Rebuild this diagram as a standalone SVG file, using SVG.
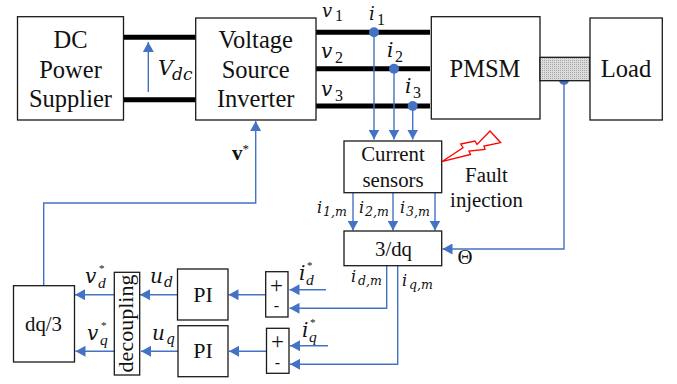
<svg xmlns="http://www.w3.org/2000/svg" width="677" height="384" viewBox="0 0 677 384">
<style>
.b{fill:#fff;stroke:#1a1a1a;stroke-width:1.3}
.t{font-family:"Liberation Serif",serif;font-size:24.500px;fill:#111;text-anchor:middle}
.s{font-size:20.800px}
.m{font-family:"DejaVu Serif","Liberation Serif",serif;font-style:italic;font-size:20px;fill:#111}
.n{font-size:16px}
.u{font-size:14px}
.l{font-family:"Liberation Serif",serif;font-style:italic;font-size:15.500px}
.x{font-family:"Liberation Serif",serif;font-style:normal;font-size:11px}
.d{font-family:"Liberation Serif",serif;font-style:normal;font-size:16px}
.w{stroke:#000;fill:none;stroke-width:5}
.c{stroke:#4472c4;stroke-width:1.4;fill:none}
.a{fill:#4472c4}
</style>
<defs>
<pattern id="h" width="2" height="2" patternUnits="userSpaceOnUse"><rect width="2" height="2" fill="#dcdcdc"/><rect width="1" height="1" fill="#a8a8a8"/></pattern>
<marker id="ah" markerUnits="userSpaceOnUse" markerWidth="11" markerHeight="11" refX="10" refY="5.500" orient="auto"><path d="M0 0L10 5.500L0 11Z" class="a"/></marker>
</defs>
<g id="connectors">
<path class="w" d="M123 37.300H196M123 99.700H196"/>
<path class="w" d="M316 32.300H430M316 68.700H430M316 106H430"/>
<path class="c" marker-end="url(#ah)" d="M148.300 92V42"/>
<path class="c" marker-end="url(#ah)" d="M374 32V139.500"/>
<path class="c" marker-end="url(#ah)" d="M394 68.500V139.500"/>
<path class="c" marker-end="url(#ah)" d="M412.700 106V139.500"/>
<circle class="a" cx="374" cy="32.300" r="5"/><circle class="a" cx="394" cy="68.700" r="5"/><circle class="a" cx="412.700" cy="106" r="5"/>
<path class="c" marker-end="url(#ah)" d="M564 81V249H442.500"/>
<circle class="a" cx="564" cy="80" r="5"/>
<path class="c" marker-end="url(#ah)" d="M353 193V230.500"/>
<path class="c" marker-end="url(#ah)" d="M393 193V230.500"/>
<path class="c" marker-end="url(#ah)" d="M435 193V230.500"/>
<path class="c" marker-end="url(#ah)" d="M43.700 285V203H255.700V121"/>
<path class="c" marker-end="url(#ah)" d="M386.700 265V308.300H289.500"/>
<path class="c" marker-end="url(#ah)" d="M397.700 265V364.300H290"/>
<path class="c" marker-end="url(#ah)" d="M326 289.700H289.500"/>
<path class="c" marker-end="url(#ah)" d="M328 345.700H290"/>
<path class="c" marker-end="url(#ah)" d="M266 294.700H228.500"/>
<path class="c" marker-end="url(#ah)" d="M267 351.300H229"/>
<path class="c" marker-end="url(#ah)" d="M178 294.700H140"/>
<path class="c" marker-end="url(#ah)" d="M178 351.300H141"/>
<path class="c" marker-end="url(#ah)" d="M114 294.700H75"/>
<path class="c" marker-end="url(#ah)" d="M114 351.300H75.500"/>
</g>
<g id="dc"><rect class="b" x="17.500" y="16.700" width="106" height="103.300"/><text class="t" x="70.500" y="47.700">DC</text><text class="t" x="70.500" y="77.700">Power</text><text class="t" x="70.500" y="106.700">Supplier</text></g>
<g id="vsi"><rect class="b" x="195.700" y="18" width="120.300" height="102"/><text class="t" x="255.700" y="47.700">Voltage</text><text class="t" x="255.700" y="77.700">Source</text><text class="t" x="255.700" y="106.700">Inverter</text></g>
<g id="pmsm"><rect class="b" x="431.300" y="16.700" width="108.700" height="102.300"/><text class="t" x="485" y="77">PMSM</text></g>
<g id="shaft"><rect x="540" y="57.300" width="50" height="23.400" fill="url(#h)" stroke="#1a1a1a" stroke-width="1.300"/></g>
<g id="load"><rect class="b" x="590" y="18" width="72.300" height="102"/><text class="t" x="626" y="77">Load</text></g>
<g id="sensors"><rect class="b" x="344" y="141" width="97.700" height="51.700"/><text class="t s" x="393" y="161">Current</text><text class="t s" x="393" y="187">sensors</text></g>
<g id="fault"><path d="M441.700 161.700L463 147.700L460.700 144L475 141L477 144.500L490 131L500.700 142.700L484 146L485 149.500L469 151L470.500 154.500Z" fill="#fff" stroke="#f00" stroke-width="1.300"/><text class="t s" x="486.500" y="182">Fault</text><text class="t s" x="486.500" y="207">injection</text></g>
<g id="abc"><rect class="b" x="344" y="231" width="97.700" height="34.700"/><text class="t s" x="393.500" y="256">3/dq</text></g>
<g id="dq3"><rect class="b" x="13.500" y="285.700" width="61" height="76.300"/><text class="t s" x="43.500" y="331">dq/3</text></g>
<g id="dec"><rect class="b" x="114.300" y="272.300" width="25.400" height="102.700"/><text class="t" style="font-size:22px" transform="translate(133 323.500) rotate(-90)">decoupling</text></g>
<g id="pi1"><rect class="b" x="177.500" y="269" width="50.500" height="51"/><text class="t" style="font-size:22px" x="203" y="302">PI</text></g>
<g id="pi2"><rect class="b" x="178" y="325.700" width="50" height="51"/><text class="t" style="font-size:22px" x="203" y="358">PI</text></g>
<g id="sum1"><rect class="b" x="265.700" y="271.700" width="22.300" height="45.300"/><text class="t" style="font-size:23px" x="276.500" y="293">+</text><text class="t" style="font-size:16px" x="276.500" y="311">-</text></g>
<g id="sum2"><rect class="b" x="266.500" y="328.300" width="22.500" height="45"/><text class="t" style="font-size:23px" x="277.500" y="349">+</text><text class="t" style="font-size:16px" x="277.500" y="367.500">-</text></g>
<g id="labels">
<text class="m" style="font-size:18px" x="322" y="17">v<tspan class="d" x="335" dy="4">1</tspan></text>
<text class="m" x="321" y="58">v<tspan class="d" x="335" dy="5">2</tspan></text>
<text class="m" x="321" y="96">v<tspan class="d" x="335" dy="5">3</tspan></text>
<text class="m" style="font-size:18px" x="369" y="20">i<tspan class="d" x="377" dy="5">1</tspan></text>
<text class="m" x="387" y="56.500">i<tspan class="d" x="395" dy="5">2</tspan></text>
<text class="m" x="405" y="93">i<tspan class="d" x="413" dy="5">3</tspan></text>
<text class="m" x="158" y="75" style="font-size:21px">V<tspan class="u" style="font-size:17px" x="172" dy="5">dc</tspan></text>
<text x="232" y="160" font-family="Liberation Serif,serif" font-weight="bold" font-size="21" fill="#111">v<tspan font-size="13" dy="-7" font-weight="normal">*</tspan></text>
<text class="m n" x="317" y="213">i<tspan style="font-size:12.500px" x="323" dy="3">1,m</tspan></text>
<text class="m n" x="359" y="213">i<tspan style="font-size:12.500px" x="365" dy="3">2,m</tspan></text>
<text class="m n" x="400" y="213">i<tspan style="font-size:12.500px" x="406" dy="3">3,m</tspan></text>
<text class="t s" x="465" y="264">Θ</text>
<text class="m n" x="351" y="282">i<tspan style="font-size:12.500px" x="358" dy="3">d,m</tspan></text>
<text class="m n" x="402" y="286">i<tspan style="font-size:12.500px" x="409" dy="3">q,m</tspan></text>
<text class="m" x="299" y="280">i<tspan class="x" x="307" dy="-11">*</tspan><tspan class="l" x="306" dy="16">d</tspan></text>
<text class="m" x="302" y="337">i<tspan class="x" x="310" dy="-11">*</tspan><tspan class="l" x="309" dy="16">q</tspan></text>
<text class="m" x="85" y="283">v<tspan class="x" x="99" dy="-11">*</tspan><tspan class="l" x="98" dy="16">d</tspan></text>
<text class="m" x="87" y="340">v<tspan class="x" x="101" dy="-11">*</tspan><tspan class="l" x="100" dy="16">q</tspan></text>
<text class="m" x="150" y="283">u<tspan class="u" x="164" dy="4">d</tspan></text>
<text class="m" x="152" y="340">u<tspan class="u" x="166" dy="4">q</tspan></text>
</g>
</svg>
